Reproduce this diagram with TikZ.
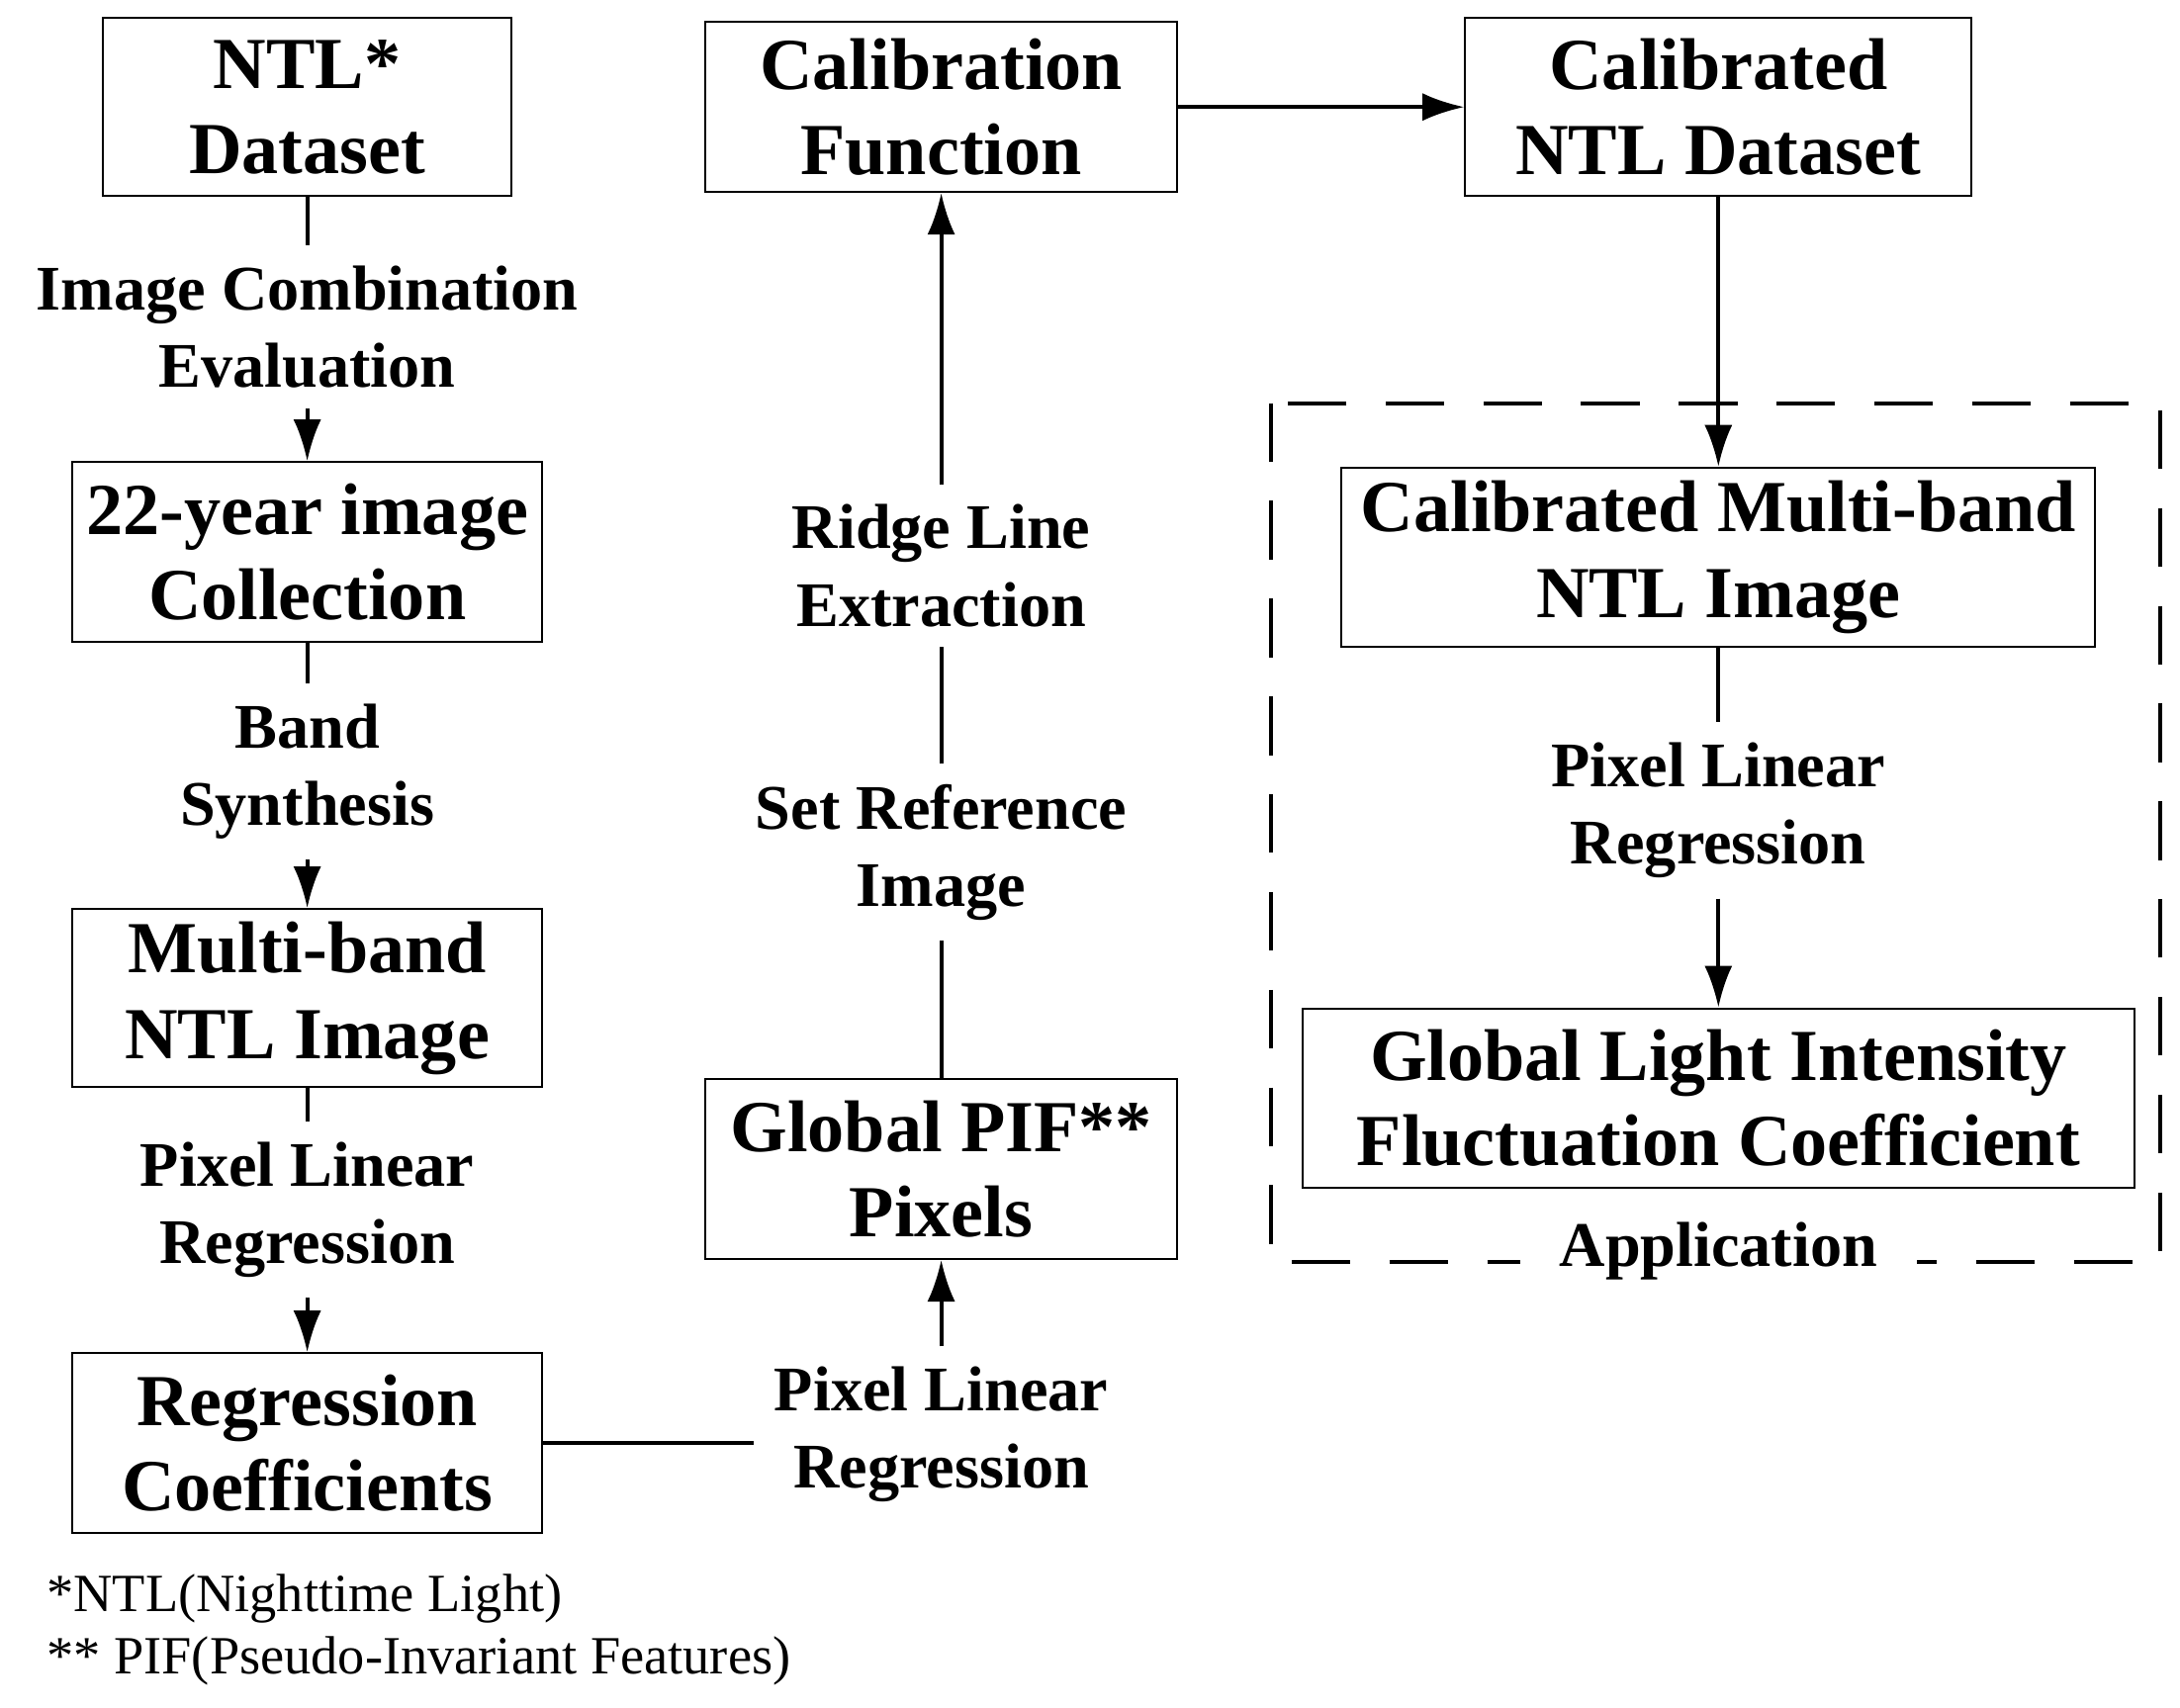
\documentclass[tikz,border=0pt]{standalone}
\usepackage{fontspec}
\setmainfont{Liberation Serif}
\usetikzlibrary{arrows.meta}
\tikzset{
  >={Latex[length=3mm,width=2mm]},
  bx/.style={rectangle, draw, align=center, inner sep=0pt, font=\fontsize{15pt}{17.5pt}\selectfont\bfseries},
  lb/.style={align=center, inner sep=4pt, font=\fontsize{13pt}{15.8pt}\selectfont\bfseries},
  ln/.style={line width=0.8pt}
}
\begin{document}
\begin{tikzpicture}[x=0.01cm,y=-0.01cm]
  \useasboundingbox (0,0) rectangle (1568,1228);
  % left column
  \node[bx, minimum width=294\pgflinewidth*0+2.94cm, minimum height=1.28cm] (ntl) at (221,77) {NTL*\\Dataset};
  \node[lb] (comb) at (221,235) {Image Combination\\Evaluation};
  \node[bx, minimum width=3.38cm, minimum height=1.29cm] (coll) at (221,397) {22-year image\\Collection};
  \node[lb] (band) at (221,555) {Band\\Synthesis};
  \node[bx, minimum width=3.38cm, minimum height=1.28cm] (multi) at (221,718) {Multi-band\\NTL Image};
  \node[lb] (plr1) at (221,870) {Pixel Linear\\Regression};
  \node[bx, minimum width=3.38cm, minimum height=1.29cm] (coef) at (221,1038) {Regression\\Coefficients};
  % middle column
  \node[bx, minimum width=3.39cm, minimum height=1.22cm] (func) at (677,77) {Calibration\\Function};
  \node[lb] (ridge) at (677,407) {Ridge Line\\Extraction};
  \node[lb] (ref) at (677,613) {Set Reference\\Image};
  \node[bx, minimum width=3.39cm, minimum height=1.29cm] (pif) at (677,841) {Global PIF**\\Pixels};
  \node[lb] (plr2) at (677,1032) {Pixel Linear\\Regression};
  % right column
  \node[bx, minimum width=3.64cm, minimum height=1.28cm] (cal) at (1236,77) {Calibrated\\NTL Dataset};
  \draw[ln, dashed, dash pattern=on 12pt off 8pt] (914,290) rectangle (1554,908);
  \node[bx, minimum width=5.42cm, minimum height=1.29cm] (calmb) at (1236,401) {Calibrated Multi-band\\NTL Image};
  \node[lb] (plr3) at (1236,583) {Pixel Linear\\Regression};
  \node[bx, minimum width=5.98cm, minimum height=1.29cm] (glob) at (1236,790) {Global Light Intensity\\Fluctuation Coefficient};
  \node[lb, fill=white, inner xsep=8pt] (app) at (1236,900) {Application};
  % footnotes
  \node[anchor=west, inner sep=0pt, font=\fontsize{11pt}{12pt}\selectfont] (fn1) at (33,1150) {*NTL(Nighttime Light)};
  \node[anchor=west, inner sep=0pt, font=\fontsize{11pt}{12pt}\selectfont] (fn2) at (33,1195) {** PIF(Pseudo-Invariant Features)};
  % connectors
  \draw[ln] (ntl) -- (comb);
  \draw[ln,->] (comb) -- (coll);
  \draw[ln] (coll) -- (band);
  \draw[ln,->] (band) -- (multi);
  \draw[ln] (multi) -- (plr1);
  \draw[ln,->] (plr1) -- (coef);
  \draw[ln] (coef) -- (plr2.west |- coef);
  \draw[ln,->] (plr2) -- (pif);
  \draw[ln] (pif) -- (ref);
  \draw[ln] (ref) -- (ridge);
  \draw[ln,->] (ridge) -- (func);
  \draw[ln,->] (func.east |- 0,77) -- (cal.west |- 0,77);
  \draw[ln,->] (cal) -- (calmb);
  \draw[ln] (calmb) -- (plr3);
  \draw[ln,->] (plr3) -- (glob);
\end{tikzpicture}
\end{document}
